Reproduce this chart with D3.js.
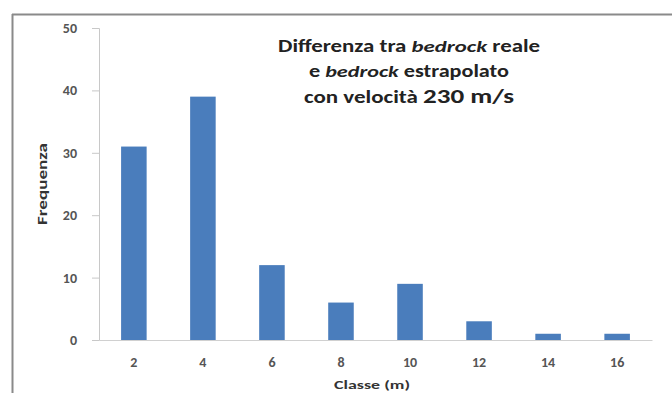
<!DOCTYPE html>
<html>
<head>
<meta charset="utf-8">
<script src="https://cdn.jsdelivr.net/npm/d3@7"></script>
<style>
  html, body { margin: 0; padding: 0; background: #ffffff; }
  svg { display: block; }
</style>
</head>
<body>
<svg id="chart" width="672" height="393"></svg>
<script>
// Frequency of the differences between real and extrapolated bedrock depth
const classes = ["2", "4", "6", "8", "10", "12", "14", "16"];
const frequencies = [31, 39, 12, 6, 9, 3, 1, 1];
const yTicks = [0, 10, 20, 30, 40, 50];

const svg = d3.select("#chart");
const W = 672, H = 393;
const plot = { left: 99, right: 652, top: 28, bottom: 340 };
const font = "Calibri, Carlito, 'Liberation Sans', Arial, sans-serif";

// Outer chart frame (top and left edges visible)
svg.append("rect").attr("width", W).attr("height", H).attr("fill", "#ffffff");
svg.append("line").attr("x1", 12).attr("x2", W).attr("y1", 14.5).attr("y2", 14.5)
  .attr("stroke", "#8a8a8a").attr("stroke-width", 2);
svg.append("line").attr("x1", 12.5).attr("x2", 12.5).attr("y1", 14).attr("y2", 393)
  .attr("stroke", "#8a8a8a").attr("stroke-width", 2);

const x = d3.scaleBand().domain(classes).range([plot.left, plot.right])
  .paddingInner(0.63).paddingOuter(0.32);
const y = d3.scaleLinear().domain([0, 50]).range([plot.bottom, plot.top]);

// Bars
svg.append("g").selectAll("rect").data(frequencies).join("rect")
  .attr("x", (d, i) => x(classes[i]))
  .attr("y", d => y(d))
  .attr("width", x.bandwidth())
  .attr("height", d => y(0) - y(d))
  .attr("fill", "#4a7dbc");

// Y axis
const yAxis = svg.append("g").attr("transform", `translate(${plot.left},0)`)
  .call(d3.axisLeft(y).tickValues(yTicks).tickSize(7).tickPadding(15));
yAxis.select(".domain").attr("stroke", "#c8c8c8");
yAxis.selectAll(".tick line").attr("stroke", "#c8c8c8");
yAxis.selectAll("text").attr("font-family", font).attr("font-size", 14)
  .attr("fill", "#555").attr("font-weight", "bold");

// X axis
const xAxis = svg.append("g").attr("transform", `translate(0,${plot.bottom})`)
  .call(d3.axisBottom(x).tickSize(0).tickPadding(17));
xAxis.select(".domain").attr("stroke", "#d0d0d0");
xAxis.selectAll("text").attr("font-family", font).attr("font-size", 14)
  .attr("fill", "#555").attr("font-weight", "bold");

// Axis titles
svg.append("text")
  .attr("transform", `translate(47,${184}) rotate(-90)`)
  .attr("text-anchor", "middle").attr("font-family", font).attr("font-size", 13)
  .attr("font-weight", "bold").attr("fill", "#333")
  .attr("textLength", 82).attr("lengthAdjust", "spacingAndGlyphs")
  .text("Frequenza");
svg.append("text")
  .attr("x", 372).attr("y", 389).attr("text-anchor", "middle")
  .attr("font-family", font).attr("font-size", 12).attr("font-weight", "bold")
  .attr("fill", "#333")
  .attr("textLength", 76).attr("lengthAdjust", "spacingAndGlyphs")
  .text("Classe (m)");

// Chart title, one text element per line
function titleLine(yPos, width, parts) {
  const t = svg.append("text").attr("x", 409).attr("y", yPos)
    .attr("text-anchor", "middle").attr("font-family", font)
    .attr("font-weight", "bold").attr("fill", "#222").attr("font-size", 17)
    .attr("textLength", width).attr("lengthAdjust", "spacingAndGlyphs");
  parts.forEach(p => {
    const s = t.append("tspan").text(p.text);
    if (p.italic) s.attr("font-style", "italic");
    if (p.size) s.attr("font-size", p.size);
  });
}
titleLine(52, 262, [
  { text: "Differenza tra " }, { text: "bedrock", italic: true }, { text: " reale" }
]);
titleLine(77, 200, [
  { text: "e " }, { text: "bedrock", italic: true }, { text: " estrapolato" }
]);
titleLine(103, 210, [
  { text: "con velocità " }, { text: "230 m/s", size: 20 }
]);
</script>
</body>
</html>
